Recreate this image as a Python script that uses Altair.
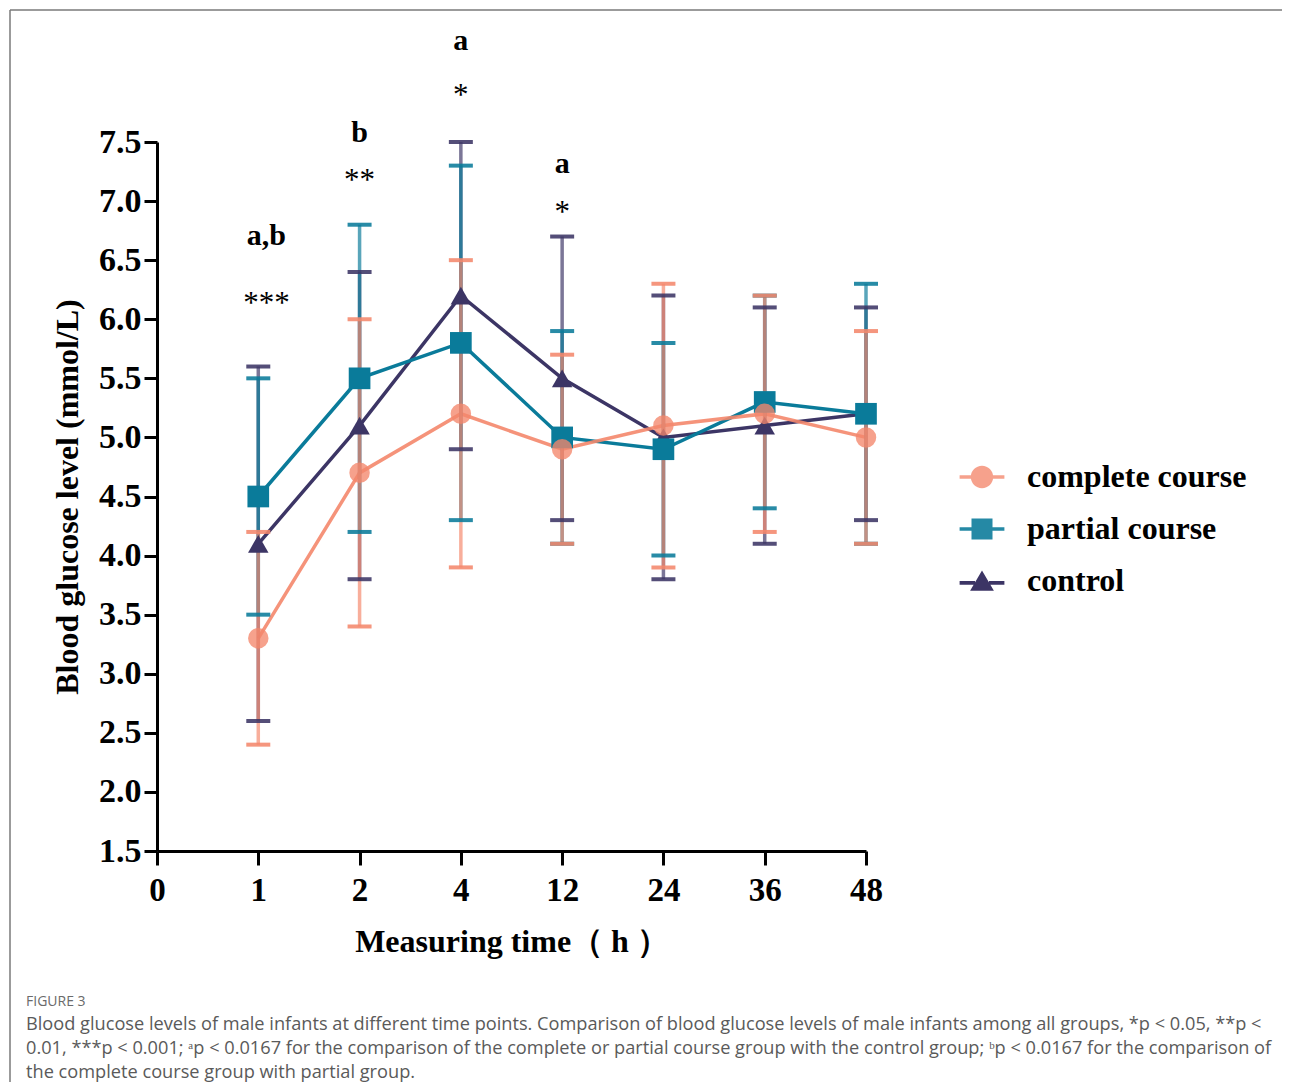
import altair as alt
import pandas as pd

# ---------------- data ----------------
hour_labels = ["0", "1", "2", "4", "12", "24", "36", "48"]
time_index = [1, 2, 3, 4, 5, 6, 7]          # position of 1,2,4,12,24,36,48 h on the axis
series_names = ["complete course", "partial course", "control"]
series_colors = ["#F4876C", "#0A7B9A", "#3C3565"]

complete_mean = [3.3, 4.7, 5.2, 4.9, 5.1, 5.2, 5.0]
complete_lo = [2.4, 3.4, 3.9, 4.1, 3.9, 4.2, 4.1]
complete_hi = [4.2, 6.0, 6.5, 5.7, 6.3, 6.2, 5.9]

partial_mean = [4.5, 5.5, 5.8, 5.0, 4.9, 5.3, 5.2]
partial_lo = [3.5, 4.2, 4.3, 4.1, 4.0, 4.4, 4.1]
partial_hi = [5.5, 6.8, 7.3, 5.9, 5.8, 6.2, 6.3]

control_mean = [4.1, 5.1, 6.2, 5.5, 5.0, 5.1, 5.2]
control_lo = [2.6, 3.8, 4.9, 4.3, 3.8, 4.1, 4.3]
control_hi = [5.6, 6.4, 7.5, 6.7, 6.2, 6.1, 6.1]

letter_text = ["a,b", "b", "a", "a"]
letter_x = [1.08, 2, 3, 4]
letter_y = [6.63, 7.5, 8.28, 7.24]
star_text = ["***", "**", "*", "*"]
star_x = [1.08, 2, 3, 4]
star_y = [6.05, 7.09, 7.81, 6.82]

y_ticks = [1.5, 2.0, 2.5, 3.0, 3.5, 4.0, 4.5, 5.0, 5.5, 6.0, 6.5, 7.0, 7.5]

caption_head = "FIGURE 3"
caption_lines = [
    "Blood glucose levels of male infants at different time points. Comparison of blood glucose levels of male infants among all groups, *p < 0.05, **p <",
    "0.01, ***p < 0.001; \u1d43p < 0.0167 for the comparison of the complete or partial course group with the control group; \u1d47p < 0.0167 for the comparison of",
    "the complete course group with partial group.",
]

# ---------------- frames ----------------
means = [complete_mean, partial_mean, control_mean]
los = [complete_lo, partial_lo, control_lo]
his = [complete_hi, partial_hi, control_hi]
frames = []
for name, m, lo, hi in zip(series_names, means, los, his):
    frames.append(pd.DataFrame({"series": name, "idx": time_index, "mean": m, "lo": lo, "hi": hi}))

letters_df = pd.DataFrame({"idx": letter_x, "yv": letter_y, "label": letter_text})
stars_df = pd.DataFrame({"idx": star_x, "yv": star_y, "label": star_text})

SERIF = "Liberation Serif"
label_expr = "[" + ",".join("'%s'" % h for h in hour_labels) + "][datum.value]"

x_axis = alt.Axis(
    values=list(range(len(hour_labels))), labelExpr=label_expr, title="Measuring time\uff08 h \uff09",
    grid=False, domainColor="black", domainWidth=3, tickColor="black", tickWidth=3, tickSize=14,
    labelFont=SERIF, labelFontWeight="bold", labelFontSize=33, labelColor="black", labelPadding=9,
    labelFlush=False, labelOverlap=False,
    titleFont=SERIF, titleFontWeight="bold", titleFontSize=32, titleColor="black",
    titleX=354.5, titleY=100, titleBaseline="alphabetic", titleAlign="center",
)
y_axis = alt.Axis(
    values=y_ticks, format=".1f", title="Blood glucose level (mmol/L)",
    grid=False, domainColor="black", domainWidth=3, tickColor="black", tickWidth=3, tickSize=13,
    labelFont=SERIF, labelFontWeight="bold", labelFontSize=34, labelColor="black", labelPadding=3,
    labelFlush=False, labelOverlap=False,
    titleFont=SERIF, titleFontWeight="bold", titleFontSize=32, titleColor="black",
    titleX=-80, titleY=354.5, titleAngle=270, titleBaseline="alphabetic", titleAlign="center",
)
x_scale = alt.Scale(domain=[0, len(hour_labels) - 1], nice=False, zero=False)
y_scale = alt.Scale(domain=[1.5, 7.5], nice=False, zero=False)


def X():
    return alt.X("idx:Q", scale=x_scale, axis=x_axis)


def Y(field):
    return alt.Y(field + ":Q", scale=y_scale, axis=y_axis)


shapes = ["circle", "square", "triangle-up"]
point_sizes = [420, 470, 420]
point_opacity = [0.78, 1.0, 1.0]
line_opacity = [0.9, 1.0, 1.0]

layers = []
draw_order = [2, 1, 0]
for i in draw_order:
    df = frames[i]
    layers.append(alt.Chart(df).mark_line(color=series_colors[i], strokeWidth=3.5, opacity=line_opacity[i])
                  .encode(x=X(), y=Y("mean")))
for i in draw_order:
    df = frames[i]
    layers.append(alt.Chart(df).mark_rule(color=series_colors[i], strokeWidth=3.5, opacity=0.68)
                  .encode(x=X(), y=Y("lo"), y2="hi:Q"))
for i in draw_order:
    df = frames[i]
    for f in ["lo", "hi"]:
        layers.append(alt.Chart(df).mark_tick(color=series_colors[i], orient="horizontal", size=24,
                                              thickness=4, opacity=0.88)
                      .encode(x=X(), y=Y(f)))
for i in draw_order:
    df = frames[i]
    layers.append(alt.Chart(df).mark_point(shape=shapes[i], filled=True, color=series_colors[i],
                                           size=point_sizes[i], opacity=point_opacity[i], strokeWidth=0)
                  .encode(x=X(), y=Y("mean")))

# significance marks
layers.append(alt.Chart(letters_df).mark_text(font=SERIF, fontWeight="bold", fontSize=30, color="black",
                                              baseline="alphabetic", align="center")
              .encode(x=X(), y=Y("yv"), text="label:N"))
layers.append(alt.Chart(stars_df).mark_text(font=SERIF, fontSize=31, color="black",
                                            baseline="alphabetic", align="center")
              .encode(x=X(), y=Y("yv"), text="label:N"))

# legend (symbols = line + marker)
legend_paths = [
    "M-1.6,-0.13H-0.6V0.13H-1.6Z M0.6,-0.13H1.6V0.13H0.6Z M0.8,0A0.8,0.8,0,1,1,-0.8,0A0.8,0.8,0,1,1,0.8,0Z",
    "M-1.6,-0.13H-0.75V0.13H-1.6Z M0.75,-0.13H1.6V0.13H0.75Z M-0.75,-0.75H0.75V0.75H-0.75Z",
    "M-1.6,-0.0H-0.5V0.26H-1.6Z M0.5,0.0H1.6V0.26H0.5Z M0,-0.75L0.85,0.7H-0.85Z",
]
leg = alt.Legend(title=None, orient="none", legendX=809, legendY=319, padding=0,
                 labelFont=SERIF, labelFontWeight="bold", labelFontSize=32, labelColor="black",
                 labelLimit=500, symbolSize=784, labelOffset=29, rowPadding=20, symbolStrokeWidth=0)
legend_df = pd.DataFrame({"series": series_names})
layers.append(alt.Chart(legend_df).transform_filter("false").mark_point(filled=True)
              .encode(color=alt.Color("series:N", scale=alt.Scale(domain=series_names, range=series_colors), legend=leg),
                      shape=alt.Shape("series:N", scale=alt.Scale(domain=series_names, range=legend_paths), legend=leg),
                      opacity=alt.Opacity("series:N", scale=alt.Scale(domain=series_names, range=point_opacity), legend=leg)))

# page frame and caption
one = pd.DataFrame({"k": [0]})
layers.append(alt.Chart(one).mark_rule(color="#7a7a7a", strokeWidth=1.5)
              .encode(x=alt.value(-147), x2=alt.value(1140), y=alt.value(-132)))
layers.append(alt.Chart(one).mark_rule(color="#7a7a7a", strokeWidth=1.5)
              .encode(x=alt.value(-147), y=alt.value(-132), y2=alt.value(960)))
layers.append(alt.Chart(one).mark_text(text=caption_head, font="Open Sans", fontSize=14, color="#6a6a6a",
                                       align="left", baseline="alphabetic")
              .encode(x=alt.value(-131), y=alt.value(864)))
for k, line in enumerate(caption_lines):
    layers.append(alt.Chart(one).mark_text(text=line, font="Open Sans", fontSize=18.2, color="#5a5a5a",
                                           align="left", baseline="alphabetic")
                  .encode(x=alt.value(-131), y=alt.value(888 + 24 * k)))

chart = alt.layer(*layers).properties(
    width=709, height=709,
    autosize=alt.AutoSizeParams(type="none"),
    padding={"left": 149, "top": 134, "right": 416, "bottom": 231},
    background="white",
).configure_view(stroke=None)

chart.save("out.html", embed_options={"renderer": "svg", "actions": False})
